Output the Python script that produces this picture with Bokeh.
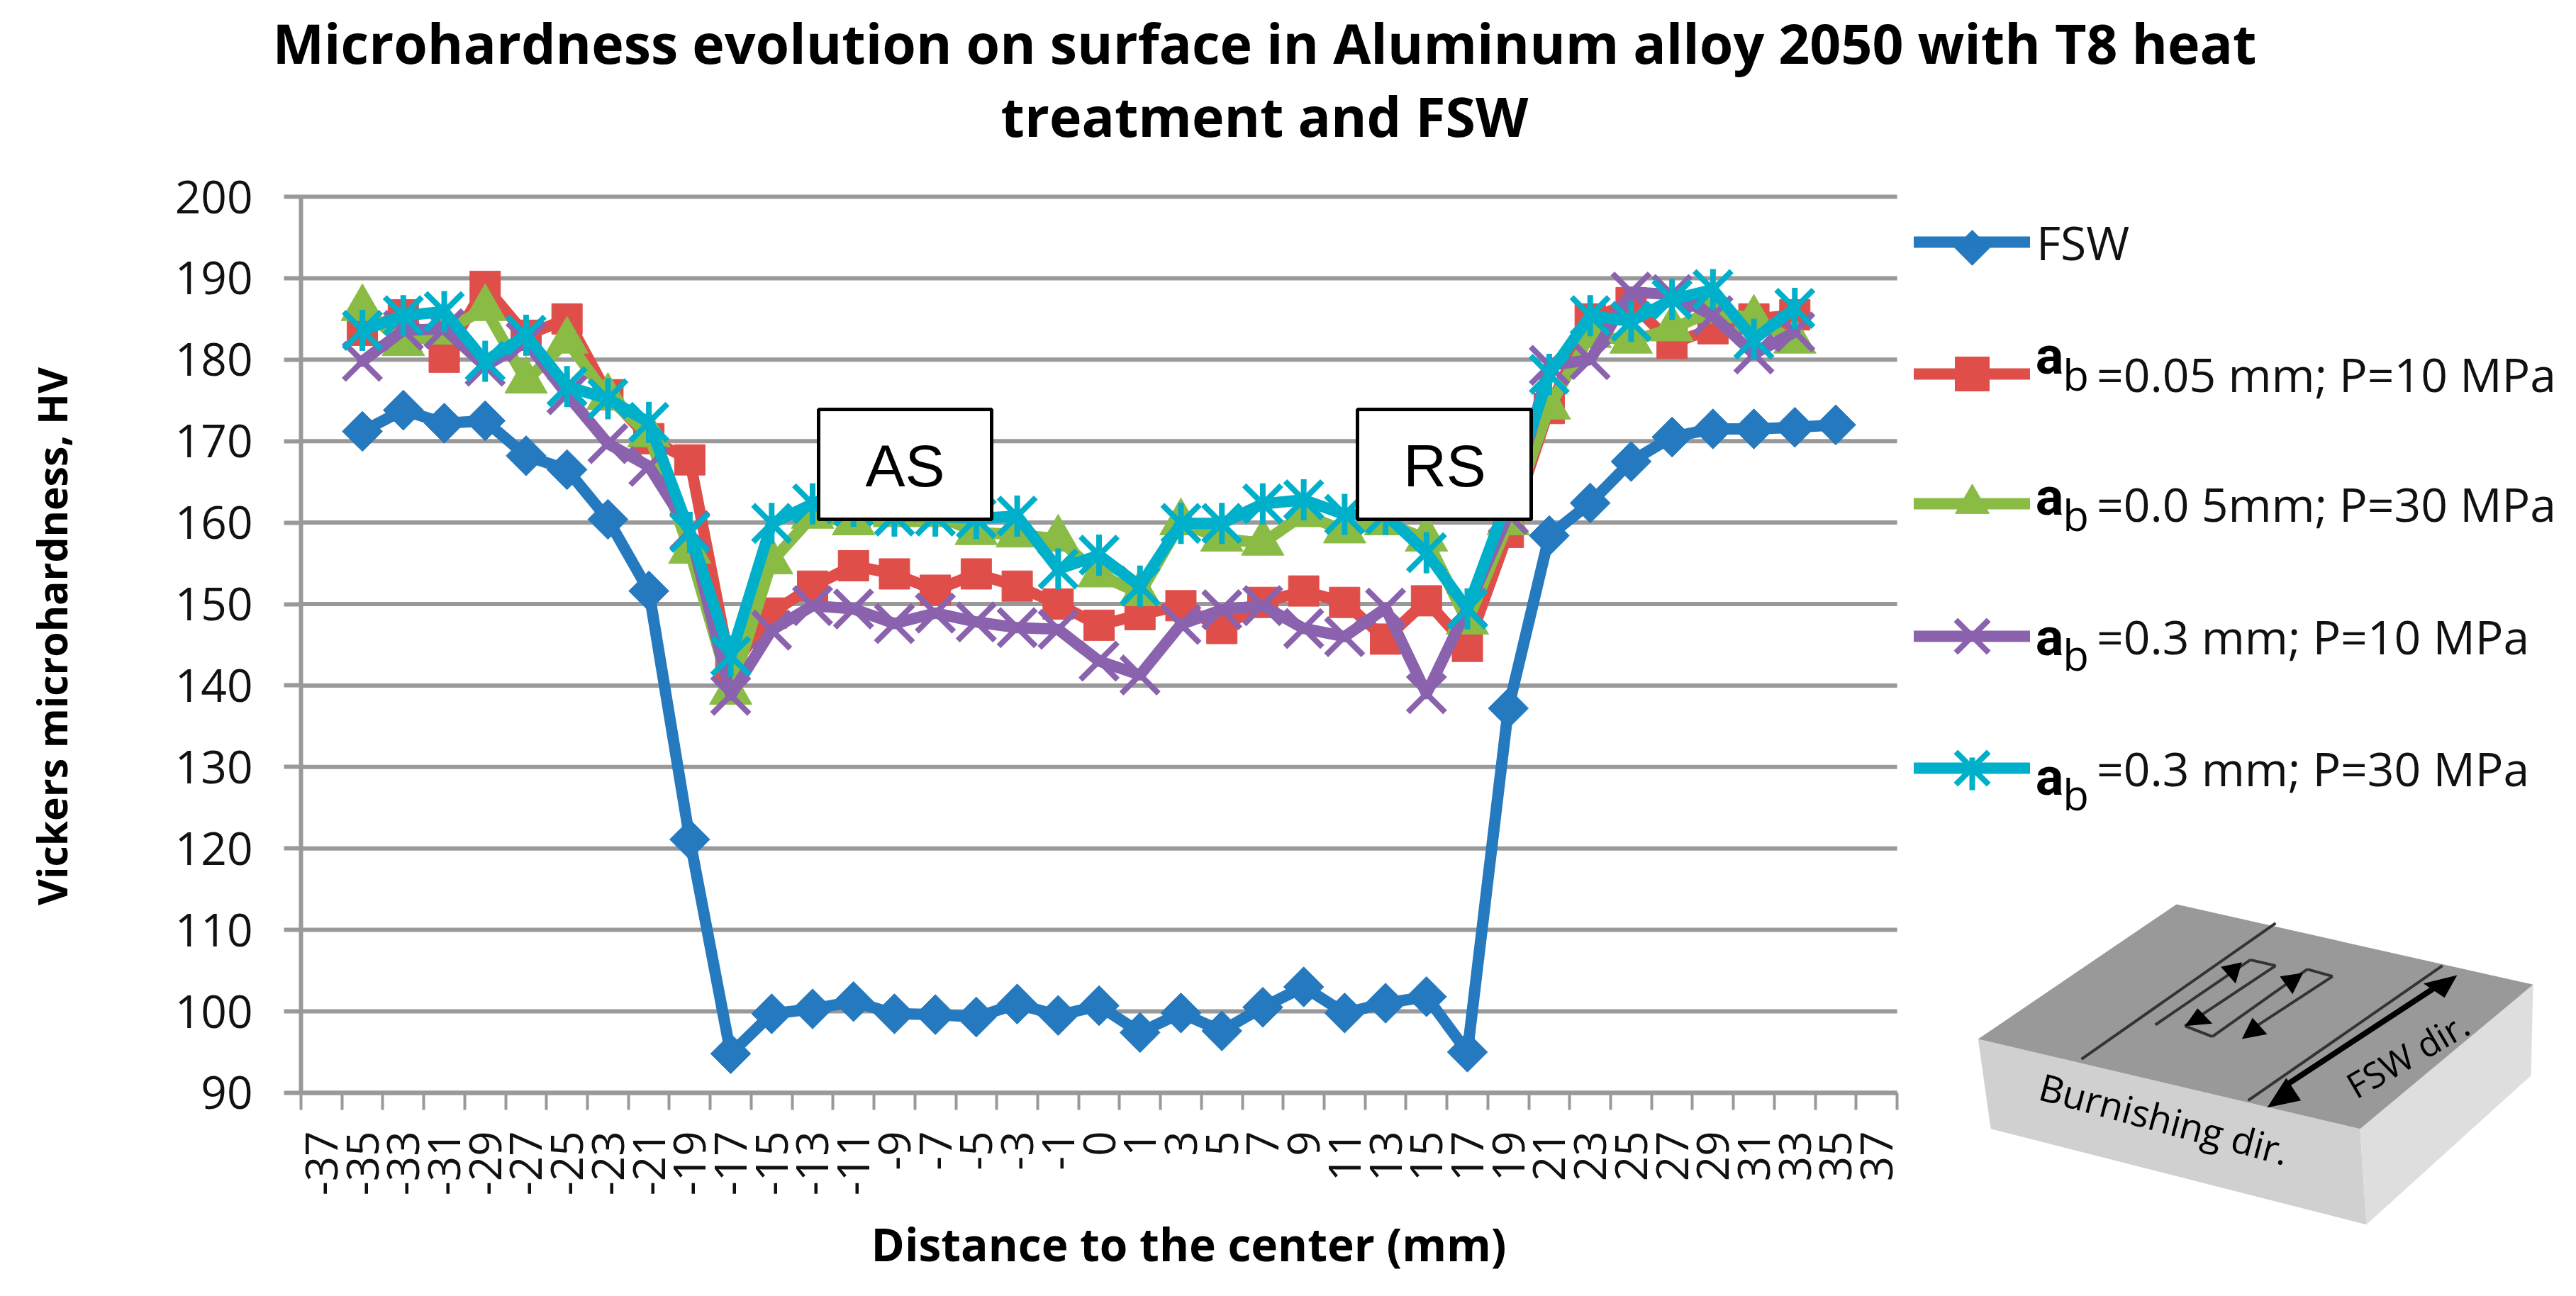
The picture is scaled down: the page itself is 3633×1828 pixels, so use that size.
from math import radians

from bokeh.embed import file_html
from bokeh.models import (BoxAnnotation, FixedTicker, Label, Legend, LegendItem,
                          LinearAxis, Range1d)
from bokeh.plotting import figure
from bokeh.resources import INLINE

TITLE_LINES = ['Microhardness evolution on surface in Aluminum alloy 2050 with T8 heat',
               'treatment and FSW']
Y_TICKS = list(range(90, 201, 10))
categories = [-37, -35, -33, -31, -29, -27, -25, -23, -21, -19, -17, -15, -13, -11, -9, -7, -5, -3, -1,
              0, 1, 3, 5, 7, 9, 11, 13, 15, 17, 19, 21, 23, 25, 27, 29, 31, 33, 35, 37]
distance_fsw = categories[1:38]
distance_burn = categories[1:37]

fsw = [171.2, 173.8, 172.2, 172.5, 168.2, 166.5, 160.4, 151.6, 121.1, 94.8, 99.7, 100.3, 101.2,
       99.7, 99.6, 99.3, 100.9, 99.5, 100.7, 97.4, 99.8, 97.6, 100.5, 103.0, 99.8, 101.0, 101.8,
       95.0, 137.2, 158.4, 162.4, 167.5, 170.5, 171.5, 171.5, 171.7, 172.0]
a005_p10 = [183.6, 185.5, 180.3, 189.0, 183.0, 185.0, 175.7, 170.3, 167.7, 142.0, 148.9, 152.2, 154.7,
            153.7, 151.7, 153.7, 152.2, 150.0, 147.4, 148.7, 149.8, 147.0, 150.2, 151.6, 150.2, 145.7,
            150.4, 144.8, 158.8, 174.0, 185.0, 187.0, 182.0, 183.8, 185.0, 185.5]
a005_p30 = [186.3, 182.0, 183.4, 186.3, 177.4, 182.3, 175.4, 170.8, 156.5, 139.2, 155.2, 160.8, 160.0,
            161.0, 161.0, 158.8, 158.5, 158.0, 153.6, 151.3, 160.0, 158.0, 157.5, 161.0, 159.0, 160.0,
            158.0, 147.8, 160.0, 174.2, 183.0, 182.3, 183.8, 186.0, 185.0, 182.3]
a03_p10 = [179.8, 183.6, 183.8, 179.2, 182.2, 175.7, 169.7, 166.9, 159.0, 138.8, 146.8, 149.8, 149.4,
           147.6, 148.9, 147.8, 147.1, 146.9, 143.0, 141.3, 147.5, 149.3, 149.8, 147.0, 146.0, 149.5,
           139.0, 149.5, 161.0, 179.3, 180.0, 188.3, 188.0, 185.4, 180.7, 183.4]
a03_p30 = [183.6, 185.4, 185.9, 179.8, 183.0, 176.7, 175.2, 172.3, 158.8, 143.6, 159.9, 162.3, 162.0,
           160.8, 160.8, 160.5, 160.8, 154.3, 156.0, 152.2, 159.9, 159.9, 162.3, 162.8, 161.0, 161.0,
           156.3, 149.4, 163.0, 178.2, 185.4, 184.7, 187.4, 188.6, 182.5, 186.3]

BLUE, RED, GREEN, PURPLE, TEAL = '#2579bf', '#e04e4a', '#8abb45', '#8a62ad', '#00b0cb'
GRAY = '#999999'
LW = 16
SANS = 'Open Sans'
WIDTH, HEIGHT = 3617, 1812

# the frame fills the page, annotations get cut at the frame otherwise.
# the axes sit inside it with fixed_location
PX_X, PX_Y = 57.72, 11.49
X0, Y200 = 424, 277


def dx(px):
    return (px - X0) / PX_X


def dy(py):
    return 200 - (py - Y200) / PX_Y


def xpos(distances):
    # every category sits in the middle of its slot, ticks go between the slots
    return [categories.index(d) + 0.5 for d in distances]


def text(plot, txt, x, y, size, angle=0, bold=False, font=SANS, align='center', color='black'):
    plot.add_layout(Label(x=dx(x), y=dy(y), text=txt,
                          text_font=font, text_font_size='%dpx' % size, text_color=color,
                          text_font_style='bold' if bold else 'normal', text_align=align,
                          text_baseline='middle', angle=radians(angle)))


def z(zx, zy):
    # pixels of the little block picture, from the crop I measured it on
    return (2700 + zx / 1.68, 1230 + zy / 3)


def poly(plot, pts, color):
    plot.patch([dx(z(*c)[0]) for c in pts], [dy(z(*c)[1]) for c in pts], color=color, line_width=0)


def seg(plot, a, b, color='#333333', width=4):
    plot.line([dx(z(*a)[0]), dx(z(*b)[0])], [dy(z(*a)[1]), dy(z(*b)[1])], line_color=color, line_width=width)


def draw_block(plot):
    poly(plot, [(150, 705), (1055, 1085), (1070, 1490), (180, 1085)], '#d0d0d0')
    poly(plot, [(1055, 1085), (1465, 475), (1460, 860), (1070, 1490)], '#dedede')
    poly(plot, [(620, 135), (1465, 475), (1055, 1085), (150, 705)], '#999999')
    for a, b in [((855, 215), (395, 790)), ((1250, 395), (790, 965)), ((570, 645), (795, 370)),
                 ((795, 370), (855, 395)), ((855, 395), (640, 650)), ((640, 650), (705, 695)),
                 ((705, 695), (930, 410)), ((930, 410), (990, 440)), ((990, 440), (810, 650))]:
        seg(plot, a, b)
    for head in [[(775, 380), (725, 400), (760, 470)], [(640, 650), (670, 575), (705, 640)],
                 [(920, 425), (865, 440), (895, 515)], [(775, 705), (800, 615), (835, 685)],
                 [(1285, 435), (1205, 470), (1255, 530)], [(835, 995), (880, 870), (915, 965)]]:
        poly(plot, head, 'black')
    seg(plot, (1230, 490), (880, 900), 'black', 8)
    text(plot, 'Burnishing dir.', 3052, 1577, 53, angle=-15)
    text(plot, 'FSW dir.', 3395, 1487, 50, angle=30)


plot = figure(width=WIDTH, height=HEIGHT, output_backend='svg', toolbar_location=None,
              x_range=Range1d(dx(0), dx(WIDTH)), y_range=Range1d(dy(HEIGHT), dy(0)),
              min_border=0, x_axis_type=None, y_axis_type=None)
plot.outline_line_color = None
plot.xgrid.visible = False
plot.ygrid.visible = False

yaxis = LinearAxis(ticker=FixedTicker(ticks=Y_TICKS), fixed_location=0, bounds=(90, 200))
yaxis.axis_line_color = GRAY
yaxis.axis_line_width = 6
yaxis.major_tick_line_color = GRAY
yaxis.major_tick_line_width = 6
yaxis.major_tick_in = 0
yaxis.major_tick_out = 24
yaxis.minor_tick_line_color = None
yaxis.major_label_standoff = 44
yaxis.major_label_text_font = SANS
yaxis.major_label_text_font_size = '64px'
yaxis.major_label_text_color = '#111111'
plot.add_layout(yaxis, 'left')

centers = [i + 0.5 for i in range(len(categories))]
xaxis = LinearAxis(ticker=FixedTicker(ticks=centers, minor_ticks=list(range(len(categories) + 1))),
                   fixed_location=90, bounds=(0, len(categories)))
xaxis.major_label_overrides = {c: str(d) for c, d in zip(centers, categories)}
xaxis.axis_line_color = GRAY
xaxis.axis_line_width = 6
xaxis.major_tick_line_color = None
xaxis.major_tick_out = 0
xaxis.major_tick_in = 0
xaxis.minor_tick_line_color = GRAY
xaxis.minor_tick_line_width = 4
xaxis.minor_tick_in = 0
xaxis.minor_tick_out = 24
xaxis.major_label_orientation = radians(90)
xaxis.major_label_standoff = 30
xaxis.major_label_text_font = SANS
xaxis.major_label_text_font_size = '62px'
xaxis.major_label_text_color = '#111111'
plot.add_layout(xaxis, 'below')

for value in Y_TICKS:
    plot.line([0, len(categories)], [value, value], line_color=GRAY, line_width=6)

x_fsw = xpos(distance_fsw)
x_burn = xpos(distance_burn)

l1 = plot.line(x_fsw, fsw, line_color=BLUE, line_width=LW, line_join='round', line_cap='round')
m1 = plot.scatter(x_fsw, fsw, marker='square', angle=radians(45), size=40, color=BLUE)
l2 = plot.line(x_burn, a005_p10, line_color=RED, line_width=LW, line_join='round', line_cap='round')
m2 = plot.scatter(x_burn, a005_p10, marker='square', size=43, color=RED)
l3 = plot.line(x_burn, a005_p30, line_color=GREEN, line_width=LW, line_join='round', line_cap='round')
m3 = plot.scatter(x_burn, a005_p30, marker='triangle', size=60, color=GREEN)
l4 = plot.line(x_burn, a03_p10, line_color=PURPLE, line_width=LW, line_join='round', line_cap='round')
m4 = plot.scatter(x_burn, a03_p10, marker='x', size=74, line_color=PURPLE, line_width=8)
l5 = plot.line(x_burn, a03_p30, line_color=TEAL, line_width=LW, line_join='round', line_cap='round')
m5 = plot.scatter(x_burn, a03_p30, marker='x', size=74, line_color=TEAL, line_width=8)
m6 = plot.scatter(x_burn, a03_p30, marker='dash', angle=radians(90), size=58, line_color=TEAL, line_width=8)


def legend(items, bottom, glyph_height, standoff=94, spacing=0):
    # a row's marker is 0.4 of glyph_height, so each marker size needs its own legend
    return Legend(items=items, location=(2699, HEIGHT - bottom + 8), glyph_width=164,
                  glyph_height=glyph_height, label_standoff=standoff, spacing=spacing, padding=0, margin=0,
                  background_fill_alpha=0, border_line_color=None, label_text_font=SANS,
                  label_text_font_size='66px', label_text_color='#111111')


plot.add_layout(legend([LegendItem(label='FSW', renderers=[l1])], 349 + 45, 90, standoff=9))
plot.add_layout(legend([LegendItem(label='=0.05 mm; P=10 MPa', renderers=[l2, m2]),
                        LegendItem(label='=0.0 5mm; P=30 MPa', renderers=[l3, m3])], 718 + 60, 120, spacing=63))
plot.add_layout(legend([LegendItem(label='=0.3 mm; P=10 MPa', renderers=[l4, m4]),
                        LegendItem(label='=0.3 mm; P=30 MPa', renderers=[l5, m5])], 1091 + 85, 170, spacing=16))
# legends ignore the marker angle, so the diamond and the upright stroke of the star go on by hand
plot.scatter([dx(2781)], [dy(349)], marker='square', angle=radians(45), size=35, color=BLUE)
plot.scatter([dx(2781)], [dy(1091)], marker='dash', angle=radians(90), size=46, line_color=TEAL, line_width=8)

# the a and b in front of the legend texts
for a_y, b_y in [(501, 527), (700, 725), (898, 922), (1095, 1119)]:
    text(plot, 'a', 2890, a_y, 74, bold=True, font='Roboto')
    text(plot, 'b', 2927, b_y, 60)

plot.add_layout(BoxAnnotation(left=dx(1154), right=dx(1398), top=dy(577), bottom=dy(732), fill_color='white',
                              fill_alpha=1, line_color='black', line_alpha=1, line_width=5))
plot.add_layout(BoxAnnotation(left=dx(1914), right=dx(2159), top=dy(577), bottom=dy(732), fill_color='white',
                              fill_alpha=1, line_color='black', line_alpha=1, line_width=5))
text(plot, 'AS', 1276, 656, 84, font='Liberation Sans')
text(plot, 'RS', 2037, 656, 84, font='Liberation Sans')

text(plot, TITLE_LINES[0], 1783, 60, 77, bold=True)
text(plot, TITLE_LINES[1], 1783, 163, 77, bold=True)
text(plot, 'Vickers microhardness, HV', 72, 897, 57, angle=90, bold=True)
text(plot, 'Distance to the center (mm)', 1676, 1754, 64, bold=True)

draw_block(plot)

open('out.html', 'w').write(file_html(plot, INLINE))
